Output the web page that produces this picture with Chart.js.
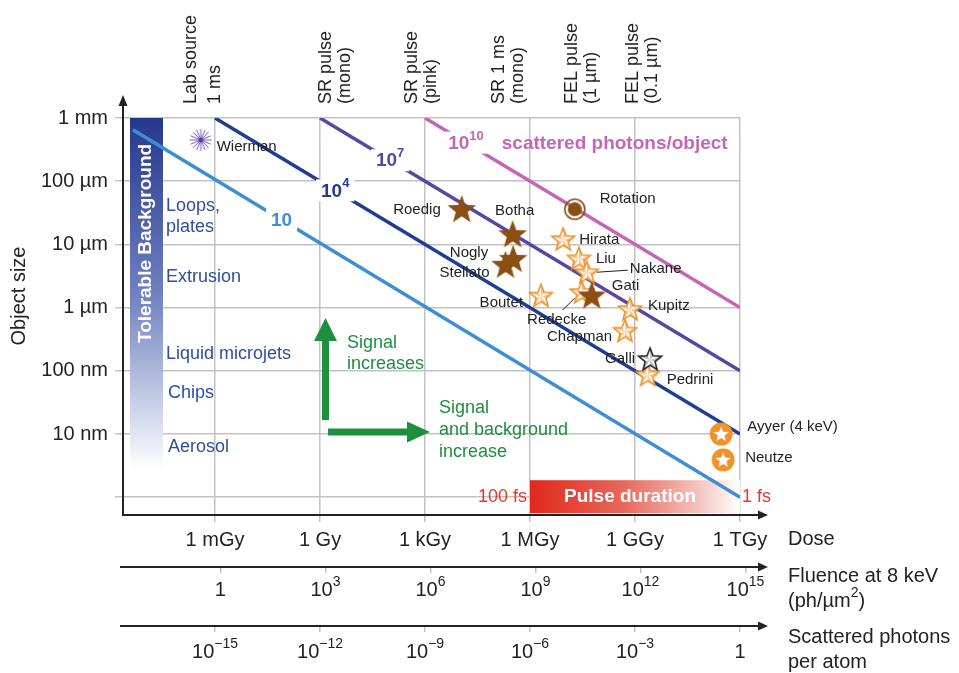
<!DOCTYPE html>
<html>
<head>
<meta charset="utf-8">
<script src="https://cdn.jsdelivr.net/npm/chart.js@4.4.0/dist/chart.umd.min.js"></script>
<style>
  html, body { margin: 0; padding: 0; background: #fff; }
  #wrap { width: 959px; height: 673px; position: relative; }
</style>
</head>
<body>
<div id="wrap"><canvas id="grafico"></canvas></div>
<script>
// Ejes: dosis en Gy, tamaño del objeto en nm
const doseTicks = [1e-3, 1, 1e3, 1e6, 1e9, 1e12];
const doseLabels = ['1 mGy', '1 Gy', '1 kGy', '1 MGy', '1 GGy', '1 TGy'];
const fluenceTicks = [1, 1e3, 1e6, 1e9, 1e12, 1e15];
const fluenceExp = ['', '3', '6', '9', '12', '15'];
const photonTicks = [1e-15, 1e-12, 1e-9, 1e-6, 1e-3, 1];
const photonExp = ['−15', '−12', '−9', '−6', '−3', ''];
const sizeTicks = [1, 10, 100, 1e3, 1e4, 1e5, 1e6];
const sizeLabels = ['', '10 nm', '100 nm', '1 µm', '10 µm', '100 µm', '1 mm'];
const doseMin = 2.35e-6, doseMax = 1e12;
const sizeMin = 0.523, sizeMax = 1e6;
const fluencePerGy = 700;          // ph/µm² por Gy a 8 keV
const photonsPerAtomPerGy = 1e-12;

// Líneas de fotones dispersados por objeto
const isoExponent = ['', '4', '7', '10'];
const isoDose = [[4.5e-6, 1e12], [1e-3, 1e12], [1, 1e12], [1e3, 1e12]];
const isoSize = [[6.5e5, 1], [1e6, 10], [1e6, 100], [1e6, 1000]];

// Experimentos
const expNames = ['Wierman', 'Roedig', 'Botha', 'Stellato', 'Nogly', 'Rotation', 'Hirata', 'Liu', 'Nakane',
  'Redecke', 'Gati', 'Boutet', 'Chapman', 'Kupitz', 'Pedrini', 'Galli', 'Ayyer (4 keV)', 'Neutze'];
const expDose = [3.9e-4, 1.12e4, 3.2e5, 2.0e5, 3.3e5, 1.9e7, 8.9e6, 2.5e7, 4.2e7,
  3.0e7, 5.8e7, 2.06e6, 5.2e8, 7.2e8, 2.3e9, 2.7e9, 2.9e11, 3.3e11];
const expSize = [4.5e5, 3.5e4, 1.4e4, 4.6e3, 5.7e3, 3.6e4, 1.17e4, 5.8e3, 3.5e3,
  1.7e3, 1.5e3, 1.5e3, 416, 916, 84, 148, 10, 3.9];
const expKind = ['lab', 'sr', 'sr', 'sr', 'sr', 'rot', 'fel', 'fel', 'fel',
  'fel', 'sr', 'fel', 'fel', 'fel', 'fel', 'fel2', 'badge', 'badge'];

// Fuentes (arriba) y métodos de muestra (izquierda)
const sourceNames = [['Lab source', '1 ms'], ['SR pulse', '(mono)'], ['SR pulse', '(pink)'],
  ['SR 1 ms', '(mono)'], ['FEL pulse', '(1 µm)'], ['FEL pulse', '(0.1 µm)']];
const sourceDose = [4.5e-4, 2.7, 820, 2.5e5, 2.9e7, 1.6e9];
const deliveryNames = [['Loops,', 'plates'], ['Extrusion'], ['Liquid microjets'], ['Chips'], ['Aerosol']];
const deliverySize = [2.8e4, 3.0e3, 185, 45, 6.2];
const pulseDose = [1e6, 1e12];

// Estilos
const FONT = '"Liberation Sans", Arial, Helvetica, sans-serif';
const gridColor = '#c2c2c2';
const isoColors = ['#3d8ed4', '#1f3c96', '#5a46a0', '#c466b4'];
const isoLabelT = [0.245, 0.229, 0.167, 0.13];
const expLabelPos = [
  [16, 7, 'left'], [-21, 0, 'right'], [2, -24, 'center'], [-16, 7, 'right'], [-25, -7, 'right'],
  [25, -10, 'left'], [16, 0, 'left'], [17, 0, 'left'], [43, -4, 'left'], [-25, 27, 'center'],
  [20, -11, 'left'], [-18, 6, 'right'], [-13, 5, 'right'], [18, -4, 'left'], [19, 4, 'left'],
  [-15, -1, 'right'], [26, -7, 'left'], [22, -2, 'left']
];

Chart.defaults.font.family = FONT;
Chart.defaults.color = '#222';

function starPath(ctx, cx, cy, ro, ri) {
  ctx.beginPath();
  for (let k = 0; k < 10; k++) {
    const r = k % 2 ? ri : ro;
    const a = -Math.PI / 2 + k * Math.PI / 5;
    ctx.lineTo(cx + r * Math.cos(a), cy + r * Math.sin(a));
  }
  ctx.closePath();
}

function bevelStar(ctx, c, ro, ri, stroke, shade) {
  ctx.fillStyle = '#fff';
  starPath(ctx, c, c, ro, ri);
  ctx.fill();
  ctx.fillStyle = shade;
  for (let k = 0; k < 5; k++) {
    const a = -Math.PI / 2 + k * 2 * Math.PI / 5;
    const b = a + Math.PI / 5;
    ctx.beginPath();
    ctx.moveTo(c, c);
    ctx.lineTo(c + ro * Math.cos(a), c + ro * Math.sin(a));
    ctx.lineTo(c + ri * Math.cos(b), c + ri * Math.sin(b));
    ctx.closePath();
    ctx.fill();
  }
  ctx.strokeStyle = stroke;
  ctx.lineWidth = 1.6;
  starPath(ctx, c, c, ro, ri);
  ctx.stroke();
}

// Crea el dibujo de cada tipo de marcador
function crearMarcador(kind) {
  const c = document.createElement('canvas');
  const size = { sr: 34, fel: 28, fel2: 28, rot: 24, badge: 26, lab: 26 }[kind];
  c.width = size; c.height = size;
  const ctx = c.getContext('2d');
  const m = size / 2;
  if (kind === 'sr') {
    ctx.fillStyle = '#8a4f12';
    starPath(ctx, m, m, 15, 6.3);
    ctx.fill();
  } else if (kind === 'fel') {
    bevelStar(ctx, m, 12, 5.2, '#f0902a', '#f9c48a');
  } else if (kind === 'fel2') {
    bevelStar(ctx, m, 12, 5.2, '#222', '#bbb');
  } else if (kind === 'rot') {
    ctx.strokeStyle = '#8a4f12';
    ctx.lineWidth = 1.6;
    ctx.beginPath(); ctx.arc(m, m, 10, 0, Math.PI * 2); ctx.stroke();
    ctx.fillStyle = '#8a4f12';
    ctx.beginPath(); ctx.arc(m, m, 7, 0, Math.PI * 2); ctx.fill();
  } else if (kind === 'badge') {
    ctx.fillStyle = '#f0922a';
    ctx.beginPath(); ctx.arc(m, m, 11.5, 0, Math.PI * 2); ctx.fill();
    ctx.fillStyle = '#fff';
    starPath(ctx, m, m + 0.5, 8, 3.4);
    ctx.fill();
  } else if (kind === 'lab') {
    ctx.strokeStyle = '#7a5bbf';
    ctx.lineWidth = 1;
    for (let k = 0; k < 16; k++) {
      const a = k * Math.PI / 8;
      ctx.beginPath();
      ctx.moveTo(m + 2 * Math.cos(a), m + 2 * Math.sin(a));
      ctx.lineTo(m + 11 * Math.cos(a), m + 11 * Math.sin(a));
      ctx.stroke();
    }
    ctx.fillStyle = '#5a3ca0';
    ctx.beginPath(); ctx.arc(m, m, 2.5, 0, Math.PI * 2); ctx.fill();
  }
  return c;
}

const marcadores = {};
['sr', 'fel', 'fel2', 'rot', 'badge', 'lab'].forEach(k => { marcadores[k] = crearMarcador(k); });

// Texto con superíndice
function textoRico(ctx, x, y, segs, size, bold, align) {
  const w = bold ? 'bold ' : '';
  const small = Math.round(size * 0.7);
  let total = 0;
  segs.forEach(s => {
    ctx.font = w + (s[1] ? small : size) + 'px ' + FONT;
    total += ctx.measureText(s[0]).width;
  });
  let x0 = x;
  if (align === 'center') x0 = x - total / 2;
  else if (align === 'right') x0 = x - total;
  ctx.textAlign = 'left';
  ctx.textBaseline = 'middle';
  segs.forEach(s => {
    ctx.font = w + (s[1] ? small : size) + 'px ' + FONT;
    ctx.fillText(s[0], x0, s[1] ? y - size * 0.4 : y);
    x0 += ctx.measureText(s[0]).width;
  });
  return total;
}

function potencia(exp) {
  return exp ? [['10', 0], [exp, 1]] : [['1', 0]];
}

function flecha(ctx, x, y, dir, len, half) {
  ctx.beginPath();
  if (dir === 'right') {
    ctx.moveTo(x, y); ctx.lineTo(x - len, y - half); ctx.lineTo(x - len, y + half);
  } else {
    ctx.moveTo(x, y); ctx.lineTo(x - half, y + len); ctx.lineTo(x + half, y + len);
  }
  ctx.closePath();
  ctx.fill();
}

const decoPlugin = {
  id: 'deco',
  beforeDatasetsDraw(chart) {
    const { ctx, chartArea: a, scales } = chart;
    ctx.save();
    // Barra "Tolerable Background"
    const g = ctx.createLinearGradient(0, a.top, 0, 470);
    g.addColorStop(0, '#25378c');
    g.addColorStop(0.5, '#7080c0');
    g.addColorStop(0.8, '#c5cce6');
    g.addColorStop(1, '#ffffff');
    ctx.fillStyle = g;
    ctx.fillRect(a.left + 7, a.top, 33, 470 - a.top);
    ctx.save();
    ctx.translate(a.left + 23, 343);
    ctx.rotate(-Math.PI / 2);
    ctx.fillStyle = '#fff';
    ctx.font = 'bold 19px ' + FONT;
    ctx.textAlign = 'left';
    ctx.textBaseline = 'middle';
    ctx.fillText('Tolerable Background', 0, 0);
    ctx.restore();

    // Barra de duración del pulso
    const px0 = scales.x.getPixelForValue(pulseDose[0]);
    const px1 = scales.x.getPixelForValue(pulseDose[1]);
    const yMid = scales.y.getPixelForValue(1);
    const pg = ctx.createLinearGradient(px0, 0, px1, 0);
    pg.addColorStop(0, '#e1281b');
    pg.addColorStop(0.45, '#e8685c');
    pg.addColorStop(0.8, '#f5c3bd');
    pg.addColorStop(1, '#ffffff');
    ctx.fillStyle = pg;
    ctx.fillRect(px0, yMid - 17, px1 - px0, 33);
    ctx.fillStyle = '#fff';
    ctx.font = 'bold 19px ' + FONT;
    ctx.textAlign = 'center';
    ctx.textBaseline = 'middle';
    ctx.fillText('Pulse duration', (px0 + px1) / 2 - 5, yMid);
    ctx.fillStyle = '#e8352a';
    ctx.font = '18px ' + FONT;
    ctx.textAlign = 'right';
    ctx.fillText('100 fs', px0 - 3, yMid);
    ctx.textAlign = 'left';
    ctx.fillText('1 fs', px1 + 2, yMid);

    // Métodos de entrega de muestra
    ctx.fillStyle = '#2d4ea3';
    ctx.font = '18px ' + FONT;
    ctx.textAlign = 'left';
    deliveryNames.forEach((lines, i) => {
      const yc = scales.y.getPixelForValue(deliverySize[i]);
      const x = i >= 3 ? a.left + 45 : a.left + 43;
      lines.forEach((t, j) => {
        ctx.fillText(t, x, yc + (j - (lines.length - 1) / 2) * 21);
      });
    });

    // Flechas verdes
    ctx.fillStyle = '#1f8f3d';
    ctx.fillRect(322, 340, 7, 80);
    flecha(ctx, 325.5, 318, 'up', 23, 11.5);
    ctx.fillRect(328, 428.5, 80, 7);
    flecha(ctx, 430, 432, 'right', 23, 10.5);
    ctx.font = '18px ' + FONT;
    ctx.fillText('Signal', 347, 343);
    ctx.fillText('increases', 347, 364);
    ctx.fillText('Signal', 439, 408);
    ctx.fillText('and background', 439, 430);
    ctx.fillText('increase', 439, 452);
    ctx.restore();
  },
  afterDatasetsDraw(chart) {
    const { ctx } = chart;
    ctx.save();
    // Etiquetas sobre las líneas
    for (let i = 0; i < isoExponent.length; i++) {
      const meta = chart.getDatasetMeta(i + 1);
      const p0 = meta.data[0], p1 = meta.data[1];
      const t = isoLabelT[i];
      const x = p0.x + (p1.x - p0.x) * t;
      const y = p0.y + (p1.y - p0.y) * t;
      ctx.font = 'bold 19px ' + FONT;
      let w = ctx.measureText('10').width;
      if (isoExponent[i]) {
        ctx.font = 'bold 13px ' + FONT;
        w += ctx.measureText(isoExponent[i]).width;
      }
      ctx.fillStyle = '#fff';
      ctx.fillRect(x - w / 2 - 5, y - 11, w + 10, 22);
      ctx.fillStyle = isoColors[i];
      textoRico(ctx, x, y + 1, [['10', 0], [isoExponent[i], 1]], 19, true, 'center');
      if (i === 3) {
        ctx.font = 'bold 19px ' + FONT;
        ctx.textAlign = 'left';
        ctx.fillText('scattered photons/object', x + w / 2 + 18, y + 1);
      }
    }

    // Nombres de los experimentos
    const meta = chart.getDatasetMeta(0);
    ctx.fillStyle = '#222';
    ctx.font = '15px ' + FONT;
    ctx.textBaseline = 'middle';
    meta.data.forEach((p, i) => {
      const [dx, dy, al] = expLabelPos[i];
      ctx.textAlign = al;
      ctx.fillText(expNames[i], p.x + dx, p.y + dy);
    });
    ctx.strokeStyle = '#222';
    ctx.lineWidth = 1;
    const pn = meta.data[expNames.indexOf('Nakane')];
    ctx.beginPath(); ctx.moveTo(pn.x + 10, pn.y - 1); ctx.lineTo(pn.x + 41, pn.y - 3); ctx.stroke();
    const pr = meta.data[expNames.indexOf('Redecke')];
    ctx.beginPath(); ctx.moveTo(pr.x - 19, pr.y + 17); ctx.lineTo(pr.x - 7, pr.y + 5); ctx.stroke();
    ctx.restore();
  },
  afterDraw(chart) {
    const { ctx, chartArea: a, scales } = chart;
    ctx.save();
    // Ejes con flechas
    ctx.strokeStyle = '#222';
    ctx.fillStyle = '#222';
    ctx.lineWidth = 2;
    ctx.beginPath(); ctx.moveTo(a.left, a.bottom); ctx.lineTo(a.left, 104); ctx.stroke();
    flecha(ctx, a.left, 95, 'up', 11, 4.5);
    [[scales.x.top, a.left - 1], [scales.xf.top, a.left - 3], [scales.xp.top, a.left - 3]].forEach(([y, x0]) => {
      ctx.beginPath(); ctx.moveTo(x0, y); ctx.lineTo(760, y); ctx.stroke();
      flecha(ctx, 768, y, 'right', 10, 4.5);
    });

    // Etiquetas de fluencia y fotones por átomo con superíndice
    ctx.fillStyle = '#222';
    fluenceTicks.forEach((v, i) => {
      const x = scales.xf.getPixelForValue(v);
      textoRico(ctx, x, scales.xf.top + 23, potencia(fluenceExp[i]), 20, false, 'center');
    });
    photonTicks.forEach((v, i) => {
      const x = scales.xp.getPixelForValue(v);
      textoRico(ctx, x, scales.xp.top + 26, potencia(photonExp[i]), 20, false, 'center');
    });

    // Títulos de ejes
    ctx.font = '20px ' + FONT;
    ctx.textAlign = 'left';
    ctx.textBaseline = 'middle';
    ctx.fillText('Dose', 788, 539);
    ctx.fillText('Fluence at 8 keV', 788, 576);
    textoRico(ctx, 788, 601, [['(ph/µm', 0], ['2', 1], [')', 0]], 20, false, 'left');
    ctx.font = '20px ' + FONT;
    ctx.fillText('Scattered photons', 788, 637);
    ctx.fillText('per atom', 788, 662);
    ctx.save();
    ctx.translate(19, 296);
    ctx.rotate(-Math.PI / 2);
    ctx.textAlign = 'center';
    ctx.fillText('Object size', 0, 0);
    ctx.restore();

    // Fuentes de rayos X arriba
    ctx.font = '18px ' + FONT;
    sourceNames.forEach((lines, i) => {
      const x = scales.x.getPixelForValue(sourceDose[i]);
      const gap = i === 0 ? 24 : 19;
      ctx.save();
      ctx.translate(x, 104);
      ctx.rotate(-Math.PI / 2);
      ctx.textAlign = 'left';
      ctx.textBaseline = 'middle';
      ctx.fillText(lines[0], 0, -gap / 2);
      ctx.fillText(lines[1], 0, gap / 2);
      ctx.restore();
    });
    ctx.restore();
  }
};

const datasets = [{
  type: 'scatter',
  label: 'Experiments',
  order: 0,
  xAxisID: 'x',
  yAxisID: 'y',
  data: expNames.map((n, i) => ({ x: expDose[i], y: expSize[i] })),
  pointStyle: expKind.map(k => marcadores[k]),
  pointRadius: 6,
  clip: false
}];
isoExponent.forEach((e, i) => {
  datasets.push({
    type: 'line',
    label: '10' + e,
    order: 1,
    xAxisID: 'x',
    yAxisID: 'y',
    data: [{ x: isoDose[i][0], y: isoSize[i][0] }, { x: isoDose[i][1], y: isoSize[i][1] }],
    borderColor: isoColors[i],
    borderWidth: 3.5,
    pointRadius: 0,
    fill: false
  });
});

function ejeX(min, max, ticks, labels, weight, height, tickLen, pad, onArea) {
  return {
    type: 'logarithmic',
    position: 'bottom',
    bounds: 'data',
    min: min,
    max: max,
    weight: weight,
    afterBuildTicks: s => { s.ticks = ticks.map(v => ({ value: v })); },
    afterFit: s => { s.height = height; },
    grid: { color: gridColor, lineWidth: 1.5, tickLength: tickLen, drawOnChartArea: onArea },
    border: { display: false },
    ticks: {
      display: !!labels,
      autoSkip: false, maxRotation: 0, minRotation: 0, padding: pad, color: '#222',
      font: { size: 20 },
      callback: (v, i) => labels ? labels[i] : ''
    }
  };
}

new Chart(document.getElementById('grafico'), {
  data: { datasets: datasets },
  options: {
    responsive: true,
    maintainAspectRatio: false,
    devicePixelRatio: 1,
    animation: false,
    layout: { padding: { top: 118, right: 219, bottom: 0, left: 0 } },
    plugins: { legend: { display: false }, tooltip: { enabled: false } },
    scales: {
      x: ejeX(doseMin, doseMax, doseTicks, doseLabels, 0, 52, 7, 6, true),
      xf: ejeX(doseMin * fluencePerGy, doseMax * fluencePerGy, fluenceTicks, null, 1, 59, 6, 5, false),
      xp: ejeX(doseMin * photonsPerAtomPerGy, doseMax * photonsPerAtomPerGy, photonTicks, null, 2, 47, 6, 8, false),
      y: {
        type: 'logarithmic',
        position: 'left',
        bounds: 'data',
        min: sizeMin,
        max: sizeMax,
        afterBuildTicks: s => { s.ticks = sizeTicks.map(v => ({ value: v })); },
        afterFit: s => { s.width = 123; },
        grid: { color: gridColor, lineWidth: 1.5, tickLength: 8 },
        border: { display: false },
        ticks: {
          autoSkip: false, padding: 7, color: '#222', font: { size: 20 },
          callback: (v, i) => sizeLabels[i]
        }
      }
    }
  },
  plugins: [decoPlugin]
});
</script>
</body>
</html>
